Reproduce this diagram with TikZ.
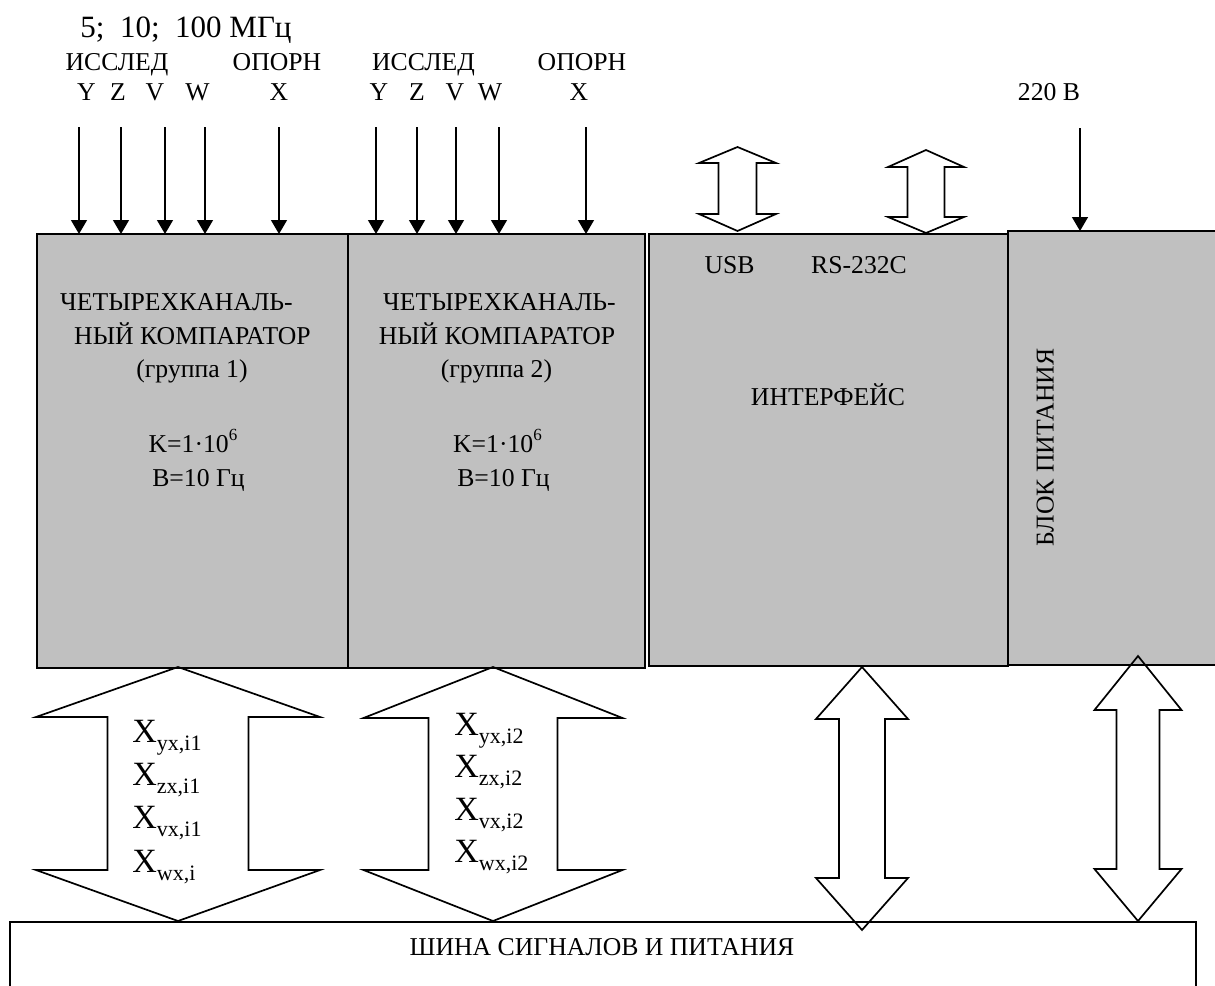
\documentclass[tikz,border=0pt]{standalone}
\usepackage{fontspec}
\setmainfont{Liberation Serif}
\usetikzlibrary{arrows.meta}
\definecolor{blkgray}{RGB}{192,192,192}
\newcommand{\hollowarrow}[7]{% cx, top, headbase, halfhead, halfshaft, lowerbase, bottom
  \draw[hollow] (#1,#2) -- ({#1+#4},#3) -- ({#1+#5},#3) -- ({#1+#5},#6) -- ({#1+#4},#6) -- (#1,#7)
    -- ({#1-#4},#6) -- ({#1-#5},#6) -- ({#1-#5},#3) -- ({#1-#4},#3) -- cycle;}
\newcommand{\Xsub}[1]{X\raisebox{-4pt}{\fontsize{11}{13}\selectfont #1}}
\begin{document}
\begin{tikzpicture}[x=0.5pt,y=-0.5pt,
  blk/.style={draw=black, fill=blkgray, line width=1pt, inner sep=0pt, outer sep=0pt, rectangle},
  busbox/.style={draw=black, line width=1pt, inner sep=0pt, outer sep=0pt, rectangle},
  lbl/.style={font=\fontsize{12.85}{15}\selectfont, inner sep=0pt, anchor=base},
  ttl/.style={font=\fontsize{15.5}{18}\selectfont, inner sep=0pt, anchor=base},
  xl/.style={font=\fontsize{17}{20}\selectfont, inner sep=0pt, anchor=base west},
  inarr/.style={line width=0.7pt, -{Triangle[width=8pt,length=7pt]}},
  hollow/.style={draw=black, line width=0.85pt, line join=miter},
]
\useasboundingbox (0,0) rectangle (1215,985);
\clip (0,0) rectangle (1215,985);

% blocks
\node[blk, minimum width=155.5pt, minimum height=217pt] (b1) at (192.5,451) {};
\node[blk, minimum width=148.5pt, minimum height=217pt] (b2) at (496.5,451) {};
\node[blk, minimum width=179.5pt, minimum height=216pt] (b3) at (828.5,450) {};
\node[blk, minimum width=116pt, minimum height=217pt] (b4) at (1124,448) {};
\node[busbox, minimum width=593pt, minimum height=44pt] (bus) at (603,966) {};

% top labels
\node[ttl] (freq) at (186,37) {5;\ \ 10;\ \ 100 МГц};
\node[lbl] (is1) at (117,70.5) {ИССЛЕД};
\node[lbl] (op1) at (277,70.5) {ОПОРН};
\node[lbl] (is2) at (423.5,70.5) {ИССЛЕД};
\node[lbl] (op2) at (582,70.5) {ОПОРН};
\foreach \n/\x/\t in {ly1/86.5/Y, lz1/118/Z, lv1/155/V, lw1/197.5/W, lx1/279/X,
                      ly2/379/Y, lz2/417/Z, lv2/455/V, lw2/490/W, lx2/579/X}
  \node[lbl] (\n) at (\x,100.5) {\t};
\node[lbl] (v220) at (1049,100.5) {220 В};

% input arrows
\foreach \n/\x in {y1/79, z1/121, v1/165, w1/205, x1/279, y2/376, z2/417, v2/456, w2/499, x2/586} {
  \coordinate (s\n) at (\x,127);
  \draw[inarr] (s\n) -- (s\n |- b1.north);
}
\coordinate (spw) at (1080,128);
\draw[inarr] (spw) -- (spw |- b4.north);

% block texts
\node[lbl] (t1a) at (176.5,310) {ЧЕТЫРЕХКАНАЛЬ-};
\node[lbl] (t1b) at (192.5,344) {НЫЙ КОМПАРАТОР};
\node[lbl] (t1c) at (192,377) {(группа 1)};
\node[lbl] (t1d) at (193,452) {K=1·10\raisebox{0.45em}{\fontsize{8.5}{10}\selectfont 6}};
\node[lbl] (t1e) at (198.5,486) {B=10 Гц};
\node[lbl] (t2a) at (499.5,310) {ЧЕТЫРЕХКАНАЛЬ-};
\node[lbl] (t2b) at (497,344) {НЫЙ КОМПАРАТОР};
\node[lbl] (t2c) at (496.5,377) {(группа 2)};
\node[lbl] (t2d) at (497.5,452) {K=1·10\raisebox{0.45em}{\fontsize{8.5}{10}\selectfont 6}};
\node[lbl] (t2e) at (503.5,486) {B=10 Гц};
\node[lbl] (usb) at (729.5,273) {USB};
\node[lbl] (rs) at (859,273) {RS-232C};
\node[lbl] (intf) at (828,405.5) {ИНТЕРФЕЙС};
\node[lbl, rotate=90] (pwr) at (1053.5,447.5) {БЛОК ПИТАНИЯ};
\node[lbl] (bustxt) at (602,955) {ШИНА СИГНАЛОВ И ПИТАНИЯ};

% hollow double arrows
\hollowarrow{178}{667}{717}{142}{70.5}{870}{921}
\hollowarrow{493}{667}{718}{129.5}{64.5}{870}{921}
\hollowarrow{862}{667}{719}{46}{23}{878}{930}
\hollowarrow{1138}{656}{710}{43.5}{21.5}{869}{921}
\hollowarrow{737.5}{147}{163}{38.5}{19}{214}{231}
\hollowarrow{926}{150}{167}{38}{18.5}{217}{233}

% output labels
\node[xl] (g1a) at (132,742) {\Xsub{yx,i1}};
\node[xl] (g1b) at (132,785) {\Xsub{zx,i1}};
\node[xl] (g1c) at (132,828) {\Xsub{vx,i1}};
\node[xl] (g1d) at (132,872) {\Xsub{wx,i}};
\node[xl] (g2a) at (454,735) {\Xsub{yx,i2}};
\node[xl] (g2b) at (454,777) {\Xsub{zx,i2}};
\node[xl] (g2c) at (454,820) {\Xsub{vx,i2}};
\node[xl] (g2d) at (454,862) {\Xsub{wx,i2}};
\end{tikzpicture}
\end{document}
